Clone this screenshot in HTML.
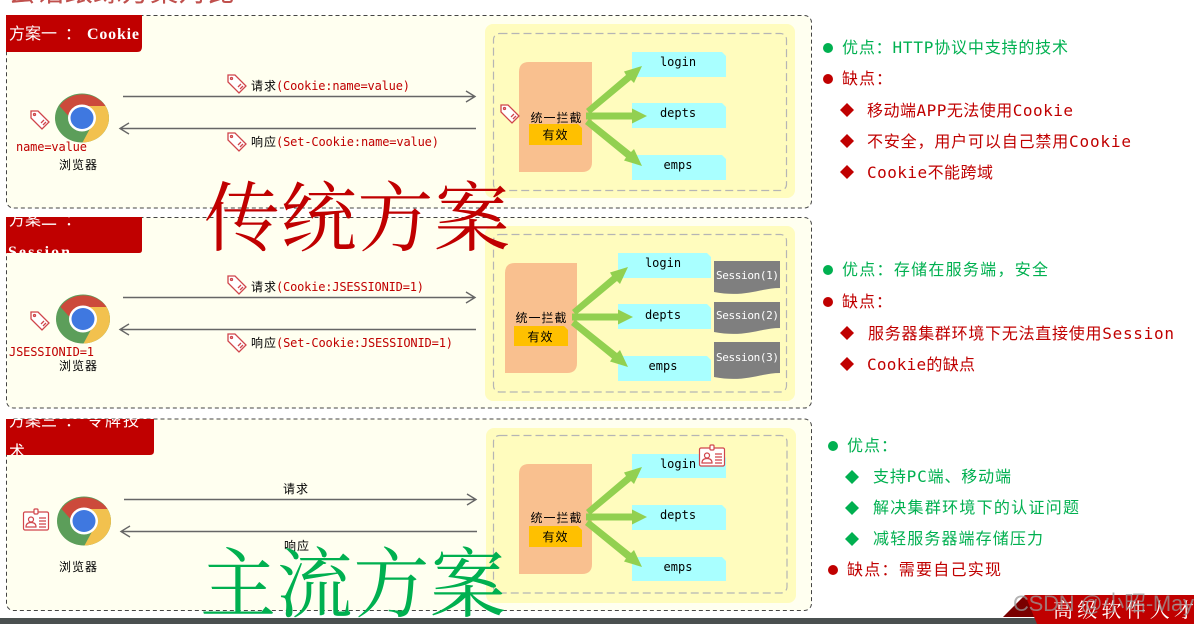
<!DOCTYPE html>
<html lang="zh"><head><meta charset="utf-8"><title>会话跟踪方案对比</title>
<style>
html,body{margin:0;padding:0;background:#fff;width:1194px;height:624px;overflow:hidden}
svg{display:block}
text{font-family:"DejaVu Sans Mono","Noto Sans CJK SC",monospace;white-space:pre}
.s{font-size:12px;fill:#000}
.r{font-size:12px;fill:#C00000}
.b{font-size:12px;fill:#000}
.g{font-size:16px;fill:#00B050}
.d{font-size:16px;fill:#C00000}
.h{font-size:16px;fill:#fff}
.hb{font-family:"Liberation Serif",serif;font-weight:bold}
.w{font-size:11px;fill:#fff}
.big{font-family:"Noto Serif CJK SC",serif;font-size:76px}
</style></head><body>
<svg width="1194" height="624" viewBox="0 0 1194 624" xmlns="http://www.w3.org/2000/svg">
<defs>
<symbol id="chrome" viewBox="-28 -26 56 52" overflow="visible">
<ellipse rx="27" ry="24.5" fill="#5C9E5A"/>
<path d="M-22.5,-12 A27,24.5 0 0 1 23.5,-12 L0,-12 L-9,3 Z" fill="#CC4A3B"/>
<path d="M23.5,-12 A27,24.5 0 0 1 0.5,24.5 L11,5 L0,-12 Z" fill="#F2C14E"/>
<ellipse rx="14" ry="13.5" fill="#fff"/>
<ellipse rx="11.5" ry="11" fill="#3F78E0"/>
</symbol>
<g id="tag" fill="none" stroke="#D0454B" stroke-width="1.3">
<path d="M-9,-9 L-2,-9 L9,2 L2,9 L-9,-2 Z" fill="#fff"/>
<circle cx="-5.5" cy="-5.5" r="1"/>
<path d="M1,3 L4,0 M3,5 L6,2"/>
</g>
<g id="card" fill="#fff" stroke="#D0454B" stroke-width="1.2">
<rect x="-12.5" y="-9" width="25" height="18" rx="1.5"/>
<rect x="-2" y="-12" width="4" height="5" rx="1"/>
<circle cx="-5" cy="-1.5" r="2.5" fill="none"/>
<path d="M-10,6 Q-10,1.5 -5,1.5 Q0,1.5 0,6 Z" fill="none"/>
<path d="M3,-3 H10 M3,0 H10 M3,3 H10 M3,6 H10" fill="none"/>
</g>
<clipPath id="c2"><rect x="6" y="217" width="136" height="36"/></clipPath>
<clipPath id="c3"><rect x="6" y="419" width="148" height="36"/></clipPath>
<clipPath id="ct"><rect x="0" y="0" width="1194" height="10"/></clipPath>
</defs>

<text x="8" y="1" font-size="28" fill="#C0504D" textLength="227" clip-path="url(#ct)" style="font-family:'Noto Sans CJK SC',sans-serif">会话跟踪方案对比</text>

<!-- Panels -->
<g fill="#FFFFF0" stroke="#444" stroke-width="1" stroke-dasharray="4 3">
<rect x="6.5" y="15.5" width="805" height="192.5" rx="7"/>
<rect x="6.5" y="217.5" width="805" height="190.5" rx="7"/>
<rect x="6.5" y="419" width="805" height="191.5" rx="7"/>
</g>

<!-- Headers -->
<path d="M6,15 H142 V47 Q142,52 137,52 H6 Z" fill="#C00000"/>
<text class="h" x="9" y="39">方案一</text><text class="h" x="65" y="39">：</text><text class="h hb" x="87" y="39" textLength="52">Cookie</text>
<path d="M6,217 H142 V250 Q142,253 139,253 H6 Z" fill="#C00000"/>
<g clip-path="url(#c2)"><text class="h" x="9" y="225">方案二</text><text class="h" x="65" y="225">：</text><text class="h hb" x="8" y="257" textLength="62">Session</text></g>
<path d="M6,419 H154 V451 Q154,455 150,455 H6 Z" fill="#C00000"/>
<g clip-path="url(#c3)"><text class="h" x="9" y="426">方案三</text><text class="h" x="65" y="426">：</text><text class="h" x="87" y="426" textLength="52">令牌技</text><text class="h" x="9" y="457">术</text></g>

<!-- Yellow zones -->
<g fill="#FFFCBE"><rect x="485" y="24" width="310" height="174" rx="8"/><rect x="485" y="226" width="310" height="175" rx="8"/><rect x="486" y="428" width="310" height="175" rx="8"/></g>
<g fill="none" stroke="#B5B5B5" stroke-width="1.2" stroke-dasharray="8 4">
<rect x="493.5" y="33.5" width="293" height="157" rx="6"/>
<rect x="493.5" y="234.5" width="293" height="157.5" rx="6"/>
<rect x="493.5" y="435.5" width="293.5" height="157.5" rx="6"/>
</g>

<!-- Peach blocks -->
<g fill="#F9C08F">
<path d="M529,62 H592 V162 Q592,172 582,172 H519 V72 Q519,62 529,62 Z"/>
<path d="M515,263 H577 V363 Q577,373 567,373 H505 V273 Q505,263 515,263 Z"/>
<path d="M529,464 H592 V564 Q592,574 582,574 H519 V474 Q519,464 529,464 Z"/>
</g>
<g fill="#FFC000">
<path d="M529,124 H578 L582,128 V145 H529 Z"/>
<path d="M514,326 H564 L568,330 V346 H514 Z"/>
<path d="M529,526 H578 L582,530 V547 H529 Z"/>
</g>
<text class="b" x="556" y="122" text-anchor="middle" textLength="51">统一拦截</text>
<text class="b" x="555" y="139" text-anchor="middle" textLength="25">有效</text>
<text class="b" x="541" y="322" text-anchor="middle" textLength="51">统一拦截</text>
<text class="b" x="540" y="341" text-anchor="middle" textLength="25">有效</text>
<text class="b" x="556" y="522" text-anchor="middle" textLength="51">统一拦截</text>
<text class="b" x="555" y="541" text-anchor="middle" textLength="25">有效</text>

<!-- Blue boxes -->
<g fill="#A9FFFF">
<path d="M632,52 H722 L726,56 V77 H632 Z"/><path d="M632,103 H722 L726,107 V128 H632 Z"/><path d="M632,155 H722 L726,159 V180 H632 Z"/>
<path d="M618,253 H707 L711,257 V278 H618 Z"/><path d="M618,304 H707 L711,308 V329 H618 Z"/><path d="M618,356 H707 L711,360 V381 H618 Z"/>
<path d="M632,454 H722 L726,458 V478 H632 Z"/><path d="M632,505 H722 L726,509 V530 H632 Z"/><path d="M632,557 H722 L726,561 V581 H632 Z"/>
</g>
<text class="b" x="678" y="66" text-anchor="middle">login</text><text class="b" x="678" y="117" text-anchor="middle">depts</text><text class="b" x="678" y="169" text-anchor="middle">emps</text>
<text class="b" x="663" y="267" text-anchor="middle">login</text><text class="b" x="663" y="319" text-anchor="middle">depts</text><text class="b" x="663" y="370" text-anchor="middle">emps</text>
<text class="b" x="678" y="468" text-anchor="middle">login</text><text class="b" x="678" y="519" text-anchor="middle">depts</text><text class="b" x="678" y="571" text-anchor="middle">emps</text>

<!-- Green arrows -->
<g fill="#92D050">
<g id="ga">
<path d="M572,310 L612,276 L610,272.500 L628,267 L620,284 L617,281 L576,315 Z"/>
<path d="M572,313.500 H618 V309.500 L633,317 L618,324.500 V320.500 H572 Z"/>
<path d="M571,325 L575,319.500 L617,353 L620,350 L628,367 L610,361.500 L612,358.500 Z"/>
</g>
<use href="#ga" x="14" y="-201"/>
<use href="#ga" x="14" y="200"/>
</g>

<!-- Sessions -->
<g fill="#7F7F7F">
<path d="M714,261 H780 V288 C760,288 745,298 714,292 Z"/>
<path d="M714,302 H780 V328 C760,328 745,338 714,332 Z"/>
<path d="M714,342 H780 V373 C760,373 745,383 714,377 Z"/>
</g>
<text class="w" x="716" y="279" textLength="63">Session(1)</text>
<text class="w" x="716" y="319" textLength="63">Session(2)</text>
<text class="w" x="716" y="361" textLength="63">Session(3)</text>

<!-- Chrome icons -->
<use href="#chrome" x="54" y="92" width="56" height="52"/>
<use href="#chrome" x="55" y="293" width="56" height="52"/>
<use href="#chrome" x="56" y="495" width="56" height="52"/>

<!-- Connectors -->
<g fill="none" stroke="#666" stroke-width="1.4">
<path d="M123,96.5 H475 M466,91 L475,96.5 L466,102"/>
<path d="M476,128.5 H120 M129,123 L120,128.5 L129,134"/>
<path d="M123,297.5 H475 M466,292 L475,297.5 L466,303"/>
<path d="M476,329.5 H120 M129,324 L120,329.5 L129,335"/>
<path d="M124,499.5 H476 M467,494 L476,499.5 L467,505"/>
<path d="M477,531.5 H121 M130,526 L121,531.5 L130,537"/>
</g>

<!-- Tags and cards -->
<use href="#tag" x="237" y="84"/><use href="#tag" x="237" y="142"/><use href="#tag" x="40" y="120"/><use href="#tag" x="510" y="114"/>
<use href="#tag" x="237" y="285"/><use href="#tag" x="237" y="343"/><use href="#tag" x="40" y="321"/>
<use href="#card" x="36" y="521"/><use href="#card" x="712" y="457"/>

<!-- Labels -->
<text class="s" x="251" y="90" textLength="25">请求</text><text class="r" x="276" y="90" textLength="134">(Cookie:name=value)</text>
<text class="s" x="251" y="146" textLength="25">响应</text><text class="r" x="276" y="146" textLength="163">(Set-Cookie:name=value)</text>
<text class="r" x="16" y="151" textLength="71">name=value</text>
<text class="s" x="59" y="169" textLength="38">浏览器</text>
<text class="s" x="251" y="291" textLength="25">请求</text><text class="r" x="276" y="291" textLength="148">(Cookie:JSESSIONID=1)</text>
<text class="s" x="251" y="347" textLength="25">响应</text><text class="r" x="276" y="347" textLength="177">(Set-Cookie:JSESSIONID=1)</text>
<text class="r" x="9" y="356" textLength="85">JSESSIONID=1</text>
<text class="s" x="59" y="370" textLength="38">浏览器</text>
<text class="s" x="283" y="493" textLength="25">请求</text>
<text class="s" x="284" y="550" textLength="25">响应</text>
<text class="s" x="59" y="571" textLength="38">浏览器</text>

<!-- Right lists -->
<circle cx="828" cy="48" r="5" fill="#00B050"/><circle cx="828" cy="79" r="5" fill="#C00000"/>
<circle cx="828" cy="270" r="5" fill="#00B050"/><circle cx="828" cy="302" r="5" fill="#C00000"/>
<circle cx="833" cy="446" r="5" fill="#00B050"/><circle cx="833" cy="570" r="5" fill="#C00000"/>
<g fill="#C00000">
<path d="M847,103 L854,110 L847,117 L840,110 Z"/><path d="M847,134 L854,141 L847,148 L840,141 Z"/><path d="M847,165 L854,172 L847,179 L840,172 Z"/>
<path d="M847,326 L854,333 L847,340 L840,333 Z"/><path d="M847,357 L854,364 L847,371 L840,364 Z"/>
</g>
<g fill="#00B050">
<path d="M852,470 L859,477 L852,484 L845,477 Z"/><path d="M852,501 L859,508 L852,515 L845,508 Z"/><path d="M852,532 L859,539 L852,546 L845,539 Z"/>
</g>
<text class="g" x="842" y="53" textLength="226">优点：HTTP协议中支持的技术</text>
<text class="d" x="842" y="84" textLength="50">缺点：</text>
<text class="d" x="867" y="116" textLength="206">移动端APP无法使用Cookie</text>
<text class="d" x="867" y="147" textLength="264">不安全，用户可以自己禁用Cookie</text>
<text class="d" x="867" y="178" textLength="126">Cookie不能跨域</text>
<text class="g" x="842" y="275" textLength="206">优点：存储在服务端，安全</text>
<text class="d" x="842" y="307" textLength="50">缺点：</text>
<text class="d" x="868" y="339" textLength="306">服务器集群环境下无法直接使用Session</text>
<text class="d" x="867" y="370" textLength="108">Cookie的缺点</text>
<text class="g" x="847" y="451" textLength="50">优点：</text>
<text class="g" x="873" y="482" textLength="138">支持PC端、移动端</text>
<text class="g" x="873" y="513" textLength="206">解决集群环境下的认证问题</text>
<text class="g" x="873" y="544" textLength="170">减轻服务器端存储压力</text>
<text class="d" x="847" y="575" textLength="154">缺点：需要自己实现</text>

<!-- Big words -->
<text class="big" x="204" y="245" fill="#C00000" textLength="306">传统方案</text>
<text class="big" x="200" y="611" fill="#00B050" textLength="306">主流方案</text>

<!-- Footer -->
<rect x="0" y="618" width="1194" height="6" fill="#4A5050"/>
<path d="M1003,617 L1025,595 L1036,617 Z" fill="#7A0000"/>
<path d="M1025,595 H1194 V624 H1037 Z" fill="#C00000"/>
<text x="1053" y="617" font-size="20" fill="#fff" textLength="141" style="font-family:'Noto Serif CJK SC',serif">高级软件人才</text>
<text x="1013" y="611" font-size="22" fill="#999" fill-opacity=".75" textLength="181" style="font-family:'Liberation Sans','Noto Sans CJK SC',sans-serif">CSDN @小昭-May</text>
</svg>
</body></html>
